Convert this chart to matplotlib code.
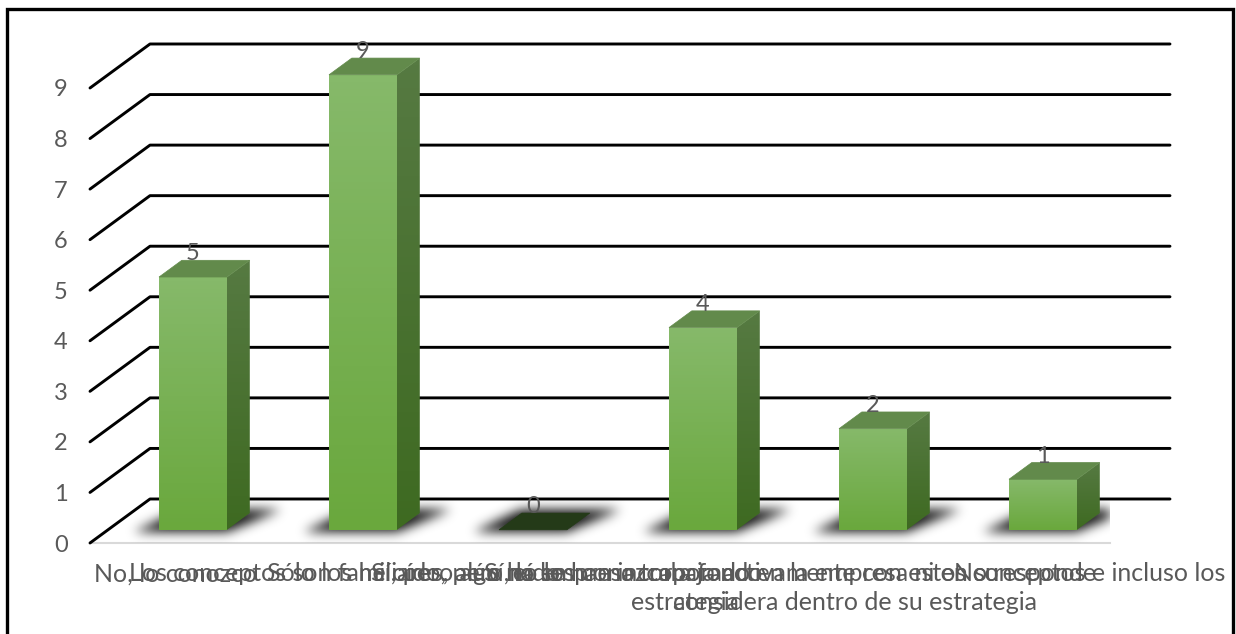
import numpy as np
import matplotlib
matplotlib.use('Agg')
import matplotlib.pyplot as plt
from matplotlib.colors import LinearSegmentedColormap
from matplotlib.patches import Polygon, Rectangle
from matplotlib.path import Path

# Data
categories = ['No, lo conozco',
              'Los conceptos son familiares, algo leído',
              'Sólo los he oído, pero no los conozco a fondo',
              'Sí, pero aún no se han incorporado en la empresa ni en su\nestrategia',
              'Sí, la empresa trabaja activamente con estos conceptos e incluso los\nconsidera dentro de su estrategia',
              'No responde']
values = [5, 9, 0, 4, 2, 1]
yticks = list(range(10))

plt.rcParams['font.family'] = ['Lato', 'DejaVu Sans']
TXT = '#595959'
W, H = 1236, 634

fig = plt.figure(figsize=(W / 100, H / 100), dpi=100, facecolor='white')
ax = fig.add_axes([90 / W, 1 - 543 / H, 1020 / W, 455 / H])
ax.set_xlim(0, len(categories))
ax.set_ylim(0, 9)
ax.set_autoscale_on(False)
for s in ax.spines.values():
    s.set_visible(False)
ax.patch.set_alpha(0)

# one unit of depth moves this far in data units (the oblique view)
DX, DY = 60 / 170, 44 / 50.55


def proj(x, y, d):
    return x + d * DX, y + d * DY


# outer frame, runs off the bottom of the picture
fig.add_artist(Rectangle((6.5 / W, -0.02), 1226 / W, 1.02 - 9.5 / H, transform=fig.transFigure,
                         fill=False, ec='black', lw=2.4))

# walls
for v in yticks:
    x0, y0 = proj(0, v, 1)
    x1, y1 = proj(len(categories), v, 1)
    ax.plot([0, x0, x1], [v, y0, y1], color='black', lw=2.1, clip_on=False, zorder=1,
            solid_capstyle='round')
ax.plot([0, len(categories)], [0, 0], color='#d9d9d9', lw=1.5, clip_on=False, zorder=0.9)

bar_w = 0.4
d0, d1 = 0.3, 0.68
front = LinearSegmentedColormap.from_list('front', ['#6aa83d', '#86b96a'])
side = LinearSegmentedColormap.from_list('side', ['#3e6a21', '#567a42'])


def grad_face(pts, cmap, zorder):
    # vertical gradient clipped to the face outline
    pts = np.array(pts)
    im = ax.imshow(np.linspace(0, 1, 64).reshape(-1, 1), cmap=cmap, origin='lower', aspect='auto',
                   extent=(pts[:, 0].min(), pts[:, 0].max(), pts[:, 1].min(), pts[:, 1].max()),
                   zorder=zorder)
    im.set_clip_box(fig.bbox)  # the tallest bar goes past the top of the axes
    im.set_clip_path(Polygon(pts, transform=ax.transData))


def blur(a, sigma):
    r = int(sigma * 3)
    k = np.exp(-0.5 * (np.arange(-r, r + 1) / sigma) ** 2)
    k = k / k.sum()
    a = np.pad(a, r)
    a = np.apply_along_axis(lambda m: np.convolve(m, k, mode='same'), 0, a)
    a = np.apply_along_axis(lambda m: np.convolve(m, k, mode='same'), 1, a)
    return a[r:-r, r:-r]


# floor shadows, one blurred image per bar
ny, nx = 60, 1020
gx = np.linspace(0, len(categories), nx)
gy = np.linspace(-0.1, 1.09, ny)
mx, my = np.meshgrid(gx, gy)
grid = np.column_stack([mx.ravel(), my.ravel()])
shadow = np.zeros((ny, nx))
for i in range(len(categories)):
    xl = i + 0.5 - bar_w / 2
    xr = i + 0.5 + bar_w / 2
    outline = [proj(xl - 0.13, 0, 0.25), proj(xr + 0.02, 0, 0.25), proj(xr + 0.16, 0, 0.76), proj(xl - 0.03, 0, 0.76)]
    shadow += Path(outline).contains_points(grid).reshape(ny, nx)
shadow = blur(shadow, 5.5) * 0.95
rgba = np.zeros((ny, nx, 4))
rgba[..., 3] = np.clip(shadow, 0, 1)
ax.imshow(rgba, origin='lower', aspect='auto', extent=(0, len(categories), -0.1, 1.09), zorder=2)

# bars
for i, v in enumerate(values):
    xl = i + 0.5 - bar_w / 2
    xr = i + 0.5 + bar_w / 2
    if v > 0:
        grad_face([proj(xl, 0, d0), proj(xr, 0, d0), proj(xr, v, d0), proj(xl, v, d0)], front, 4)
        grad_face([proj(xr, 0, d0), proj(xr, 0, d1), proj(xr, v, d1), proj(xr, v, d0)], side, 3)
        top_c = '#628a4b'
    else:
        top_c = '#243a18'
    ax.add_patch(Polygon([proj(xl, v, d0), proj(xr, v, d0), proj(xr, v, d1), proj(xl, v, d1)],
                         closed=True, fc=top_c, ec=top_c, lw=0.5, zorder=5, clip_on=False))
    lx, _ = proj(i + 0.5, v, d0)
    _, ly = proj(i + 0.5, v, d1)
    ax.text(lx, ly, str(v), ha='center', va='baseline', fontsize=17, color=TXT, zorder=6)

ax.set_yticks(yticks)
ax.set_yticklabels([str(t) for t in yticks], fontsize=17, color=TXT)
ax.set_xticks([i + 0.5 for i in range(len(categories))])
ax.set_xticklabels(categories, fontsize=18, color=TXT, linespacing=1.3)
ax.tick_params(axis='both', length=0)
ax.tick_params(axis='y', pad=16)
ax.tick_params(axis='x', pad=14)

fig.savefig('out.png', dpi=100)
